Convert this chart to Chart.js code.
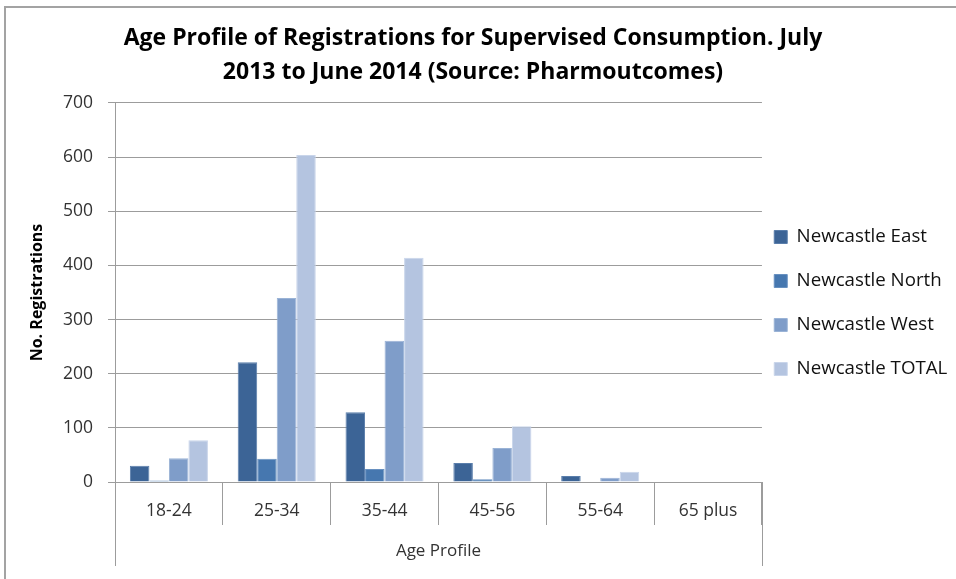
<!DOCTYPE html>
<html>
<head>
<meta charset="utf-8">
<script src="https://cdn.jsdelivr.net/npm/chart.js@4"></script>
<style>
  html, body { margin: 0; padding: 0; background: #fff; }
  #wrap { position: relative; width: 956px; height: 579px; overflow: hidden; background: #fff; }
  #wrap canvas { position: absolute; left: 0; top: 0; }
  #frame { position: absolute; left: 4px; top: 6px; width: 1200px; height: 800px;
           border-left: 2px solid #a3a3a3; border-top: 2px solid #a3a3a3; pointer-events: none; }
</style>
</head>
<body>
<div id="wrap">
  <canvas id="chart" width="956" height="579"></canvas>
  <div id="frame"></div>
</div>
<script>
// Registrations by age band, July 2013 – June 2014
const ageGroups   = ['18-24', '25-34', '35-44', '45-56', '55-64', '65 plus'];
const eastValues  = [30, 221, 129, 35, 11, 0];
const northValues = [3, 43, 24, 5, 0, 0];
const westValues  = [44, 340, 261, 63, 8, 0];
const totalValues = [77, 604, 414, 103, 19, 0];
const seriesNames = ['Newcastle East', 'Newcastle North', 'Newcastle West', 'Newcastle TOTAL'];
const yMax = 700;
const yStep = 100;

const fillColors   = ['#3C6496', '#4677AF', '#7F9DC9', '#B4C4E0'];
const borderColors = ['#5a7eab', '#6790c0', '#9ab3d6', '#c9d5ea'];
const gridColor = '#9c9c9c';
const FONT = "'Open Sans', sans-serif";

// Vertical lines that close the category table below the axis
const categoryFrame = {
  id: 'categoryFrame',
  afterDraw(chart) {
    const { ctx, chartArea } = chart;
    const yEnd = chartArea.bottom + 84;
    ctx.save();
    ctx.strokeStyle = gridColor;
    ctx.lineWidth = 1;
    ctx.beginPath();
    [chartArea.left, chartArea.right].forEach(x => {
      const px = Math.round(x) + 0.5;
      ctx.moveTo(px, chartArea.bottom);
      ctx.lineTo(px, yEnd);
    });
    ctx.stroke();
    ctx.restore();
  }
};

// Pull the legend block in towards the plot and down a little
const legendNudge = {
  id: 'legendNudge',
  afterLayout(chart) {
    const lg = chart.legend;
    if (!lg) return;
    lg.left -= 13; lg.right -= 13;
    lg.top += 13.5; lg.bottom += 13.5;
  }
};

const seriesValues = [eastValues, northValues, westValues, totalValues];

new Chart(document.getElementById('chart'), {
  type: 'bar',
  data: {
    labels: ageGroups,
    datasets: seriesNames.map((name, i) => ({
      label: name,
      data: seriesValues[i],
      backgroundColor: fillColors[i],
      borderColor: borderColors[i],
      borderWidth: 1,
      categoryPercentage: 0.724,
      barPercentage: 1.0
    }))
  },
  plugins: [categoryFrame, legendNudge],
  options: {
    responsive: false,
    animation: false,
    devicePixelRatio: 1,
    layout: { padding: { left: -24.3, right: -14.3, top: 0, bottom: 0 } },
    plugins: {
      title: {
        display: true,
        text: ['Age Profile of Registrations for Supervised Consumption. July',
               '2013 to June 2014 (Source: Pharmoutcomes)'],
        color: '#000',
        font: { family: FONT, size: 23, weight: 'bold', lineHeight: 1.478 },
        padding: { top: 21, bottom: 14 }
      },
      legend: {
        display: true,
        position: 'right',
        labels: {
          color: '#111',
          font: { family: FONT, size: 18.7 },
          boxWidth: 13,
          boxHeight: 13,
          padding: 25.3
        }
      },
      tooltip: { enabled: false }
    },
    scales: {
      x: {
        offset: true,
        grid: {
          display: true,
          offset: true,
          drawOnChartArea: false,
          drawTicks: true,
          tickLength: 43,
          color: gridColor,
          lineWidth: 1
        },
        border: { display: true, color: gridColor, width: 1 },
        ticks: {
          color: '#333',
          font: { family: FONT, size: 17.5 },
          padding: -24.5,
          maxRotation: 0
        },
        title: {
          display: true,
          text: 'Age Profile',
          color: '#333',
          font: { family: FONT, size: 17 },
          padding: { top: 0, bottom: 17.5 }
        },
        afterFit(scale) { scale.height = 97; }
      },
      y: {
        min: 0,
        max: yMax,
        ticks: {
          stepSize: yStep,
          color: '#333',
          font: { family: FONT, size: 17.5 },
          padding: 15
        },
        grid: {
          color: gridColor,
          lineWidth: 1,
          drawTicks: true,
          tickLength: 7
        },
        border: { display: true, color: gridColor, width: 1 },
        title: {
          display: true,
          text: 'No. Registrations',
          color: '#000',
          font: { family: FONT, size: 16, weight: 'bold' },
          padding: { top: 51.7, bottom: 0 }
        },
        afterFit(scale) { scale.width = 139.3; }
      }
    }
  }
});
</script>
</body>
</html>
